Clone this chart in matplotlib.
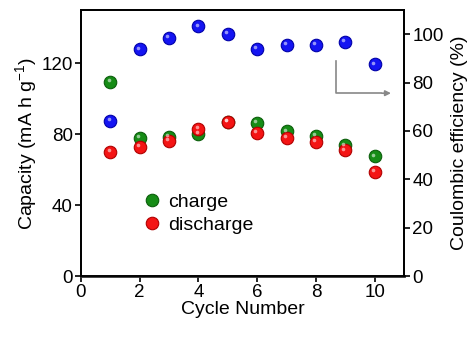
import matplotlib.pyplot as plt
import matplotlib
from matplotlib.transforms import offset_copy

matplotlib.rcParams['font.family'] = ['Liberation Sans', 'DejaVu Sans']
plt.rcParams.update({'font.size': 14})

cycle = [1, 2, 3, 4, 5, 6, 7, 8, 9, 10]
charge = [109.4, 77.7, 78.3, 80.2, 87.0, 86.3, 81.5, 79.2, 73.6, 67.4]
discharge = [69.8, 72.6, 76.2, 83.0, 86.7, 80.7, 77.7, 75.5, 70.8, 58.6]
efficiency = [64.0, 93.7, 98.3, 103.2, 100.0, 93.8, 95.7, 95.6, 96.8, 87.5]


def ball(ax, x, y, c, ec, label=None):
	# shaded ball look: body + small highlight up-left
	ax.plot(x, y, 'o', ms=9, color=c, mec=ec, mew=0.8, label=label, zorder=3)
	tr = offset_copy(ax.transData, fig=ax.figure, x=-1.3, y=1.3, units='points')
	ax.plot(x, y, 'o', ms=2.6, color='white', alpha=0.55, mew=0, zorder=4, transform=tr)


fig = plt.figure(figsize=(4.69, 3.38), dpi=100)
ax = fig.add_axes([0.1727, 0.1834, 0.6887, 0.787])
ax2 = ax.twinx()

ball(ax, cycle, charge, '#168c16', '#0b5e0b', 'charge')
ball(ax, cycle, discharge, '#f41414', '#b00000', 'discharge')
ball(ax2, cycle, efficiency, '#1414f2', '#0000a8')

ax.set_xlim(0, 11)
ax.set_ylim(0, 150)
ax2.set_ylim(0, 110)
ax.set_xticks([0, 2, 4, 6, 8, 10])
ax.set_yticks([0, 40, 80, 120])
ax2.set_yticks([0, 20, 40, 60, 80, 100])

ax.set_xlabel('Cycle Number', labelpad=0)
ax.set_ylabel('Capacity (mA h g$^{\\mathregular{-1}}$)', labelpad=1)
ax2.set_ylabel('Coulombic efficiency (%)', labelpad=5)

for a in (ax, ax2):
	a.tick_params(direction='out', length=4, width=1.2, pad=2, labelsize=13.5)
	for s in a.spines.values():
		s.set_linewidth(1.3)
ax.spines['bottom'].set_color('#333333')
ax.spines['bottom'].set_linewidth(2)

# arrow pointing to the right axis
ax2.plot([8.7, 8.7, 10.2], [88.8, 75.6, 75.6], color='#888888', lw=1.2)
ax2.annotate('', xy=(10.65, 75.6), xytext=(10.15, 75.6),
	arrowprops={'arrowstyle': '-|>', 'color': '#888888', 'lw': 1.2, 'mutation_scale': 8})

leg = ax.legend(loc='center left', bbox_to_anchor=(0.16, 0.235), frameon=False,
	handletextpad=0.3, labelspacing=0.3, handlelength=1.0, borderpad=0)

fig.savefig('out.png', dpi=100)
